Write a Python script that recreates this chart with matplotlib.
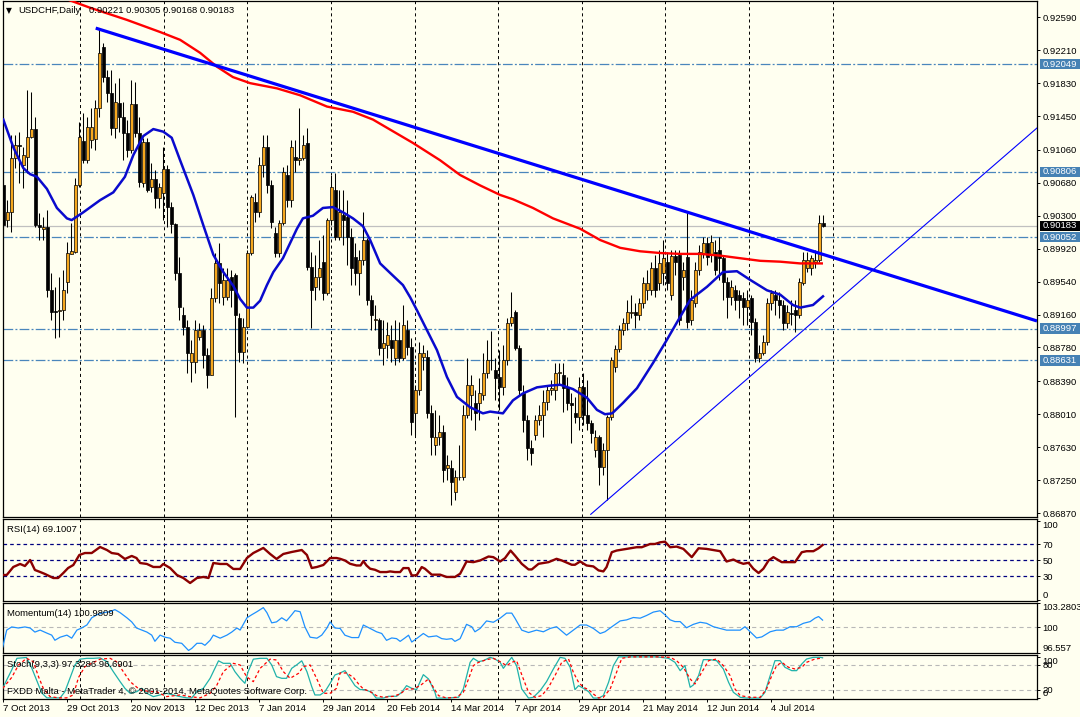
import matplotlib
matplotlib.use("Agg")
import matplotlib.pyplot as plt
import matplotlib.transforms as mtransforms
from matplotlib.patches import Rectangle
from matplotlib.collections import LineCollection, PatchCollection

plt.rcParams['font.family'] = ['Liberation Sans', 'DejaVu Sans']
plt.rcParams['lines.scale_dashes'] = False

# ---------------- data ----------------
opens = [0.9065,0.9025,0.9034,0.9097,0.9112,0.9089,0.9098,0.9121,0.9130,0.9019,
0.9015,0.9017,0.8944,0.8920,0.8920,0.8921,0.8954,0.8986,0.8988,0.9065,
0.9116,0.9094,0.9117,0.9119,0.9154,0.9225,0.9190,0.9172,0.9131,0.9160,
0.9144,0.9126,0.9106,0.9159,0.9126,0.9068,0.9115,0.9063,0.9072,0.9051,
0.9056,0.9084,0.9040,0.9021,0.8964,0.8916,0.8902,0.8861,0.8861,0.8890,
0.8898,0.8869,0.8846,0.8935,0.8975,0.8936,0.8936,0.8959,0.8962,0.8912,
0.8873,0.8902,0.8987,0.9046,0.9034,0.9089,0.9109,0.9065,0.9010,0.8987,
0.9022,0.9077,0.9048,0.9098,0.9094,0.9097,0.9114,0.8971,0.8948,0.8959,
0.8977,0.8941,0.9025,0.9060,0.9005,0.9031,0.9029,0.9005,0.8982,0.8964,
0.8979,0.9002,0.8933,0.8910,0.8910,0.8877,0.8881,0.8887,0.8866,0.8887,
0.8866,0.8898,0.8879,0.8802,0.8829,0.8867,0.8867,0.8802,0.8765,0.8775,
0.8780,0.8739,0.8739,0.8711,0.8728,0.8728,0.8800,0.8823,0.8814,0.8814,
0.8823,0.8849,0.8864,0.8852,0.8844,0.8832,0.8864,0.8906,0.8919,0.8877,
0.8825,0.8794,0.8762,0.8777,0.8794,0.8800,0.8815,0.8829,0.8829,0.8849,
0.8846,0.8832,0.8814,0.8802,0.8798,0.8832,0.8800,0.8791,0.8760,0.8775,
0.8740,0.8760,0.8798,0.8855,0.8876,0.8898,0.8906,0.8918,0.8919,0.8916,
0.8929,0.8944,0.8944,0.8970,0.8952,0.8964,0.8977,0.8939,0.8983,0.8985,
0.8959,0.8982,0.8910,0.8929,0.8967,0.8987,0.8999,0.8985,0.8988,0.8990,
0.8981,0.8954,0.8936,0.8944,0.8939,0.8935,0.8925,0.8935,0.8907,0.8866,
0.8872,0.8884,0.8929,0.8939,0.8933,0.8927,0.8906,0.8918,0.8921,0.8916,
0.8952,0.8970,0.8970,0.8977,0.8979,0.90221]
closes = [0.9019,0.9034,0.9097,0.9112,0.9111,0.9100,0.9121,0.9130,0.9019,0.9017,
0.9017,0.8944,0.8919,0.8919,0.8921,0.8944,0.8987,0.8989,0.9065,0.9121,
0.9094,0.9132,0.9132,0.9154,0.9218,0.9190,0.9172,0.9131,0.9161,0.9144,
0.9126,0.9106,0.9159,0.9126,0.9069,0.9115,0.9060,0.9072,0.9051,0.9063,
0.9084,0.9040,0.9021,0.8964,0.8925,0.8902,0.8872,0.8872,0.8898,0.8898,
0.8869,0.8846,0.8935,0.8975,0.8952,0.8956,0.8956,0.8944,0.8916,0.8873,
0.8902,0.8987,0.9052,0.9034,0.9089,0.9109,0.9065,0.9023,0.8987,0.9022,
0.9081,0.9048,0.9109,0.9094,0.9097,0.9112,0.8971,0.8944,0.8959,0.8970,
0.8941,0.9025,0.9063,0.9005,0.9034,0.9025,0.9005,0.8970,0.8964,0.8979,
0.9002,0.8933,0.8916,0.8911,0.8877,0.8883,0.8892,0.8877,0.8887,0.8866,
0.8904,0.8879,0.8792,0.8829,0.8872,0.8872,0.8802,0.8775,0.8775,0.8780,
0.8737,0.8742,0.8723,0.8728,0.8729,0.8800,0.8835,0.8835,0.8802,0.8825,
0.8849,0.8864,0.8863,0.8843,0.8832,0.8864,0.8906,0.8913,0.8877,0.8829,
0.8794,0.8762,0.8756,0.8794,0.8800,0.8815,0.8829,0.8831,0.8849,0.8850,
0.8831,0.8814,0.8812,0.8798,0.8832,0.8800,0.8791,0.8779,0.8775,0.8740,
0.8760,0.8798,0.8864,0.8876,0.8898,0.8906,0.8919,0.8919,0.8916,0.8929,
0.8952,0.8952,0.8970,0.8944,0.8975,0.8981,0.8952,0.8983,0.8977,0.8910,
0.8967,0.8907,0.8933,0.8967,0.8988,0.8999,0.8982,0.9000,0.8967,0.8981,
0.8954,0.8936,0.8948,0.8933,0.8933,0.8925,0.8933,0.8907,0.8866,0.8872,
0.8884,0.8929,0.8941,0.8933,0.8927,0.8906,0.8919,0.8917,0.8916,0.8954,
0.8979,0.8979,0.8981,0.8979,0.9022,0.90183]
highs = [0.9068,0.9048,0.9123,0.9123,0.9127,0.9109,0.9175,0.9173,0.9144,0.9033,
0.9029,0.9037,0.8964,0.8948,0.8959,0.8967,0.9000,0.9022,0.9074,0.9138,
0.9149,0.9144,0.9154,0.9164,0.9246,0.9229,0.9198,0.9198,0.9183,0.9189,
0.9161,0.9141,0.9187,0.9184,0.9144,0.9120,0.9120,0.9091,0.9083,0.9068,
0.9109,0.9089,0.9046,0.9022,0.8982,0.8925,0.8910,0.8887,0.8910,0.8906,
0.8904,0.8877,0.8947,0.8987,0.8999,0.8970,0.8970,0.8967,0.8964,0.8918,
0.8912,0.8990,0.9054,0.9056,0.9098,0.9123,0.9123,0.9071,0.9017,0.9025,
0.9086,0.9089,0.9117,0.9117,0.9154,0.9123,0.9131,0.8988,0.8985,0.9002,
0.9008,0.9027,0.9077,0.9079,0.9060,0.9060,0.9048,0.9016,0.8999,0.8990,
0.9034,0.9004,0.8939,0.8927,0.8912,0.8910,0.8907,0.8904,0.8910,0.8907,
0.8927,0.8910,0.8889,0.8835,0.8884,0.8881,0.8875,0.8812,0.8806,0.8800,
0.8788,0.8754,0.8748,0.8737,0.8765,0.8812,0.8866,0.8846,0.8829,0.8843,
0.8872,0.8887,0.8897,0.8866,0.8875,0.8881,0.8912,0.8942,0.8921,0.8881,
0.8835,0.8800,0.8771,0.8800,0.8812,0.8829,0.8835,0.8841,0.8860,0.8860,
0.8860,0.8844,0.8825,0.8821,0.8844,0.8849,0.8841,0.8794,0.8783,0.8777,
0.8768,0.8800,0.8867,0.8881,0.8904,0.8912,0.8933,0.8939,0.8929,0.8935,
0.8959,0.8967,0.8977,0.8985,0.8990,0.9002,0.8988,0.8990,0.8990,0.8990,
0.8977,0.9034,0.8944,0.8977,0.8996,0.9005,0.9005,0.9008,0.9002,0.9005,
0.8985,0.8959,0.8956,0.8950,0.8944,0.8942,0.8944,0.8939,0.8912,0.8881,
0.8892,0.8935,0.8944,0.8944,0.8942,0.8933,0.8927,0.8933,0.8933,0.8958,
0.8988,0.8988,0.8985,0.8990,0.9031,0.90305]
lows = [0.9014,0.9017,0.9011,0.9085,0.9068,0.9062,0.9079,0.9120,0.9017,0.9002,
0.9002,0.8936,0.8910,0.8889,0.8890,0.8910,0.8941,0.8986,0.8987,0.9063,
0.9091,0.9091,0.9108,0.9106,0.9144,0.9184,0.9161,0.9123,0.9120,0.9127,
0.9094,0.9098,0.9102,0.9121,0.9063,0.9063,0.9057,0.9057,0.9039,0.9039,
0.9025,0.9017,0.9010,0.8956,0.8910,0.8892,0.8849,0.8838,0.8849,0.8887,
0.8854,0.8831,0.8846,0.8930,0.8929,0.8927,0.8933,0.8925,0.8798,0.8861,
0.8860,0.8900,0.8985,0.9023,0.9029,0.9075,0.9056,0.9016,0.8982,0.8982,
0.9019,0.9040,0.9040,0.9081,0.9089,0.9094,0.8967,0.8900,0.8933,0.8944,
0.8933,0.8939,0.9019,0.9002,0.9002,0.8996,0.8973,0.8950,0.8950,0.8939,
0.8973,0.8927,0.8898,0.8898,0.8869,0.8858,0.8866,0.8861,0.8858,0.8861,
0.8864,0.8869,0.8777,0.8777,0.8823,0.8852,0.8797,0.8754,0.8754,0.8765,
0.8723,0.8725,0.8696,0.8702,0.8725,0.8725,0.8797,0.8794,0.8783,0.8794,
0.8817,0.8843,0.8852,0.8817,0.8806,0.8823,0.8858,0.8903,0.8875,0.8823,
0.8780,0.8748,0.8742,0.8771,0.8788,0.8775,0.8806,0.8823,0.8817,0.8835,
0.8804,0.8806,0.8768,0.8791,0.8783,0.8789,0.8783,0.8768,0.8752,0.8719,
0.8731,0.8702,0.8794,0.8850,0.8873,0.8892,0.8898,0.8912,0.8900,0.8910,
0.8923,0.8933,0.8939,0.8936,0.8944,0.8950,0.8944,0.8933,0.8962,0.8904,
0.8944,0.8900,0.8904,0.8925,0.8962,0.8981,0.8973,0.8977,0.8962,0.8956,
0.8933,0.8912,0.8927,0.8921,0.8912,0.8904,0.8904,0.8892,0.8861,0.8861,
0.8869,0.8881,0.8921,0.8916,0.8912,0.8898,0.8900,0.8904,0.8896,0.8912,
0.8950,0.8965,0.8962,0.8970,0.8977,0.90168]

# moving averages (bar position, value)
ma_fast_idx = [0,2.5,5,6.7,8.4,10.9,13.4,15.9,17.1,20,24.2,27.5,30.4,32.5,35,37.5,40,42.1,44.2,47.5,
50,52.5,55,57.5,59.2,60.9,62.5,64.2,65.9,67.5,69.9,73.4,74.9,77.4,79.9,82.4,84.9,87.4,89.9,91.7,
94.2,96.7,99.9,101.7,103.4,105.9,108.4,110.9,113.4,116.7,119.9,121.7,124.9,127.4,129.9,133.4,136.7,139.2,142.4,145.9,
148.4,150.4,152.2,154.9,158.4,162.4,165.9,168.4,171.7,175.9,179.9,183.4,186.7,190.9,194.2,197.4,199.2,202.4,204.9]
ma_fast_val = [0.9141,0.9109,0.9085,0.9078,0.9075,0.9061,0.9039,0.9027,0.9025,0.9034,0.9048,0.9057,0.9075,0.9100,0.9122,0.9130,0.9127,0.9120,0.9094,0.9054,
0.9019,0.8985,0.8965,0.8949,0.8934,0.8924,0.8924,0.8932,0.8950,0.8965,0.8981,0.9015,0.9027,0.9030,0.9039,0.9040,0.9034,0.9027,0.9018,0.9002,
0.8975,0.8964,0.8950,0.8936,0.8921,0.8898,0.8875,0.8844,0.8821,0.8809,0.8802,0.8804,0.8802,0.8817,0.8825,0.8832,0.8834,0.8835,0.8830,0.8820,
0.8806,0.8801,0.8802,0.8814,0.8831,0.8860,0.8887,0.8907,0.8933,0.8948,0.8965,0.8966,0.8956,0.8944,0.8939,0.8927,0.8924,0.8927,0.8937]
ma_slow_idx = [14,21.7,30.9,39.2,44.2,49.2,53.4,57.4,61.7,68.4,74.2,80.9,87.4,92.4,102.4,109.2,114.2,119.2,124.2,127.4,
132.4,137.4,144.2,149.2,154.2,159.2,164.2,169.2,174.2,179.2,184.2,189.2,194.2,199.2,204.9]
ma_slow_val = [0.9283,0.9270,0.9256,0.9242,0.9233,0.9218,0.9202,0.9190,0.9183,0.9177,0.9169,0.9156,0.9150,0.9141,0.9114,0.9094,0.9077,0.9065,0.9054,0.9049,
0.9039,0.9027,0.9015,0.9002,0.8993,0.8989,0.8987,0.8986,0.8986,0.8984,0.8981,0.8978,0.8977,0.8975,0.8975]

# trendlines (bar position, price)
trend_down = ([23.1, 258.4], [0.92465, 0.89086])
trend_up = ([146.85, 258.4], [0.86855, 0.91313])

# horizontal levels
levels = [0.92049, 0.90806, 0.90052, 0.88997, 0.88631]
bid = 0.90183
price_ticks = [0.92590,0.92210,0.91830,0.91450,0.91060,0.90680,0.90300,0.89920,
               0.89540,0.89160,0.88780,0.88390,0.88010,0.87630,0.87250,0.86870]

# RSI(14)
rsi_idx = [-0.15,0.85,2.5,4.2,5.4,6.7,7.9,9.2,10.4,12.5,13.7,15,16.2,17.5,19,20.4,22.1,24.2,25.9,27.1,
28.7,30.4,32.1,33.3,34.2,35.9,37.5,39.2,40,41.7,43.4,45,46.7,48.4,50,51.3,52.5,54.2,55.9,57.5,
59.2,60.9,62.5,65,66.7,68.3,70,72.1,74.6,75.9,77.1,78.4,80,81.7,83.3,
84.2,85.4,86.7,88.3,89.3,90,90.8,91.7,92.9,94.2,95.8,96.7,97.9,99.2,100,101.3,102.1,103.3,104.6,105.4,
107.1,109.2,110.8,112.9,114.2,115.8,117.5,119.2,121.3,122.5,124.2,125.4,126.8,127.9,129.6,131.3,132.1,133.8,136.3,138.3,
139.6,142.1,142.9,144.2,145.8,147.5,148.8,150,150.8,152.1,153.3,155.8,158.3,159.6,161.7,162.9,164.2,165.4,166.7,168.3,
170,172.1,173.8,175.8,179.2,180.8,182.5,183.8,185,186.3,187.5,188.8,190,191.3,192.5,194.6,196.3,197.9,199.6,200.8,
202.5,203.8,204.8]
rsi_val = [31.3,31.3,41.4,45.2,42.6,50.2,37.6,35.1,32.6,27.5,27.5,33.8,40.1,43.9,56.5,59,59,66.6,62.8,59,
57.8,51.5,55.3,52.7,46.4,45.2,41.4,41.4,45.2,40.1,31.3,27.5,21.2,27.5,28.8,27.5,46.4,45.2,45.2,38.9,
38.9,52.7,59,65.4,57.8,51.5,57.8,60.3,62.8,56.5,40.1,41.4,43.9,52.7,52.7,
51.7,49.6,45.4,43.3,43.3,48.8,43.3,39.2,37.9,35,35,35.8,35,35,40,40,30.8,30.8,41.3,39.2,
31.7,31.7,28.8,28.8,32.9,48.3,47.5,49.6,54.6,53.8,48.3,52.5,62.1,55.8,45.4,38.3,38.3,45.4,47.5,51.7,
49.6,44.2,44.2,48.3,43.3,42.1,37.1,35.8,41.3,60,62.1,64.2,66.3,66.3,70.4,70.4,72.5,73.3,66.3,67.1,
64.2,53.8,65,64.2,61.3,48.3,50.8,47.5,45.4,46.7,39.2,33.8,39.2,49.6,53.8,47.5,47.5,47.5,60,61.3,
61.3,65,69.1]

# Momentum(14)
mom_idx = [-0.15,0.85,2.1,3.75,5.4,6.7,7.9,9.2,10.9,12.1,12.9,14.2,15.9,17.1,18.4,19.6,20.9,22.1,23.4,25,
26.7,27.9,29.2,30.9,32.1,33.3,34.6,35.9,37.1,37.9,39.2,40.4,41.7,42.9,44.6,46.3,47.1,48.4,49.6,50.4,
51.7,52.5,54.2,55.9,57.1,58.4,59.2,60.9,62.1,63.4,64.2,65,65.9,67.1,68.3,69.6,70.8,72.1,72.9,74.2,
75.4,76.7,78.4,79.6,80.9,81.7,82.9,
84.2,85.4,87.1,88.8,90,91.7,93.3,94.6,95.8,97.1,98.3,99.2,100.4,101.3,102.1,103.3,105,106.3,108.3,109.6,
110.8,112.1,112.9,114.2,115.8,117.1,117.9,119.2,120.8,122.5,124.2,125.8,127.1,127.9,129.6,131.3,133.3,135,136.7,138.3,
140,140.8,142.5,144.2,145.8,147.5,149.2,150.4,152.5,154.2,155.8,157.5,159.2,160.8,162.5,164.2,165.4,166.7,167.9,169.2,
170.8,172.5,174.2,175.8,177.5,179.2,180.8,182.5,184.2,185.4,186.7,188.3,189.6,191.7,193.3,195,196.7,198.3,200,201.7,
202.9,203.8,204.8]
mom_val = [97.35,99.64,100.06,99.92,100.06,99.92,99.37,99.64,99.23,98.96,98.27,98.68,98.96,98.55,99.64,99.92,100.33,101.29,101.70,101.98,
102.11,102.39,101.98,101.29,100.74,99.92,99.64,99.37,98.96,98.13,98.96,98.68,98.55,98.00,97.86,96.90,97.17,97.86,97.86,97.59,
98.27,98.96,98.55,98.96,99.37,99.92,99.64,101.29,101.70,102.11,102.39,102.66,101.98,100.61,100.74,101.29,100.88,101.70,102.25,102.11,
100.06,98.68,98.55,98.96,99.92,100.74,99.92,
99.86,98.95,98.63,98.63,100.32,99.86,99.41,99.18,98.26,98.58,98.49,98.12,98.58,98.95,98.03,98.49,99.18,98.72,98.86,98.49,
98.40,98.49,98.12,98.49,100.41,100.09,99.41,99.86,100.87,100.69,101.24,101.92,101.92,101.24,99.63,99.31,99.63,99.41,99.86,100.09,
99.31,98.95,99.63,100.32,100.32,99.86,99.18,99.41,100.23,100.87,101.01,101.33,101.24,101.60,102.06,102.24,101.69,101.01,100.78,100.78,
99.95,100.41,100.69,100.55,100.09,99.86,99.63,99.63,99.63,100.09,99.41,98.58,98.72,99.41,99.63,99.63,100.09,100.09,100.55,100.78,
101.24,101.46,100.98]

# Stochastic(9,3,3): %K main line and %D signal line
stk_idx = [-0.15,0.85,2.1,3.4,4.6,5.8,7.1,8.3,9.6,10.9,12.5,14.2,15.4,16.7,17.9,19.2,20.9,22.5,24.2,25.9,
27.5,29.2,30.4,31.7,33.4,34.6,35.9,37.5,39.2,40.8,42.5,44.2,45.9,47.1,48.4,50,51.7,52.5,53.8,55,
56.7,57.9,59.2,60.4,61.2,62.5,64.2,65.9,67.1,68.3,69.6,70.8,72.1,73.3,74.6,75.9,77.1,77.9,79.2,80.4,
81.7,82.9,
84.2,85.4,86.7,87.9,89.2,90.4,92.1,93.2,95,96.3,98.3,99.6,100.8,102.1,103.3,105,106.3,107.9,108.3,110.8,
113.8,115,116.7,117.5,118.8,120,121.7,122.9,124.2,125,125.8,127.1,128.3,129.6,131.3,132.5,134.2,135.8,137.5,139.2,
140.4,141.7,142.9,143.8,145,146.3,147.5,148.8,150,151.3,152.5,153.8,156.7,163.3,166.3,167.9,169.2,170.4,171.7,172.5,
173.8,175,176.7,178.3,180,181.3,182.5,184.2,185.8,189.2,190.4,191.7,192.9,194.2,195.4,197.1,198.3,199.6,200.8,202.5,
204.2,204.8]
stk_val = [24,44,68,96,97,98,73,44,13,1,1,1,16,49,80,94,96,96,97,88,
64,40,24,12,16,24,12,4,8,12,8,4,1,1,16,24,48,64,90,84,
84,64,48,36,64,94,96,96,80,52,48,48,72,80,90,64,28,8,8,16,
36,56,
60.8,66.4,48,30.4,20.8,20.8,14.4,0.5,0.5,4.8,4.8,14.4,30.4,24,20.8,56.8,46.4,14.4,0.5,0.5,
2.4,22.4,86.4,96,88,90.4,98.4,94.4,86.4,72,82.4,98.4,78.4,22.4,0.5,2.4,18.4,40,70.4,98.4,
96,74.4,20.8,30.4,24,16,0.5,0.5,6.4,38.4,78.4,99.5,99.5,99.5,96,86.4,66.4,78.4,26.4,32,
54.4,92.8,92.8,90.4,70.4,38.4,14.4,2.4,0.5,0.5,14.4,54.4,90.4,90.4,74.4,66.4,66.4,82.4,94.4,98.4,
98.4,97.33]
std_idx = [-0.15,2.1,3.8,5.8,7.5,8.8,10,11.7,13.8,15.8,17.5,18.8,20.4,24.2,26.7,28.3,30,31.7,34.2,36.7,
38.3,40.8,44.2,46.7,49.2,51.7,53.3,55,57.5,59.2,60.8,62.5,64.2,66.7,68.3,70,71.7,73.8,75,76.7,
78.3,80,81.7,83.3,
84.2,85.8,87.5,88.8,90,91.7,93.3,95,97.5,99.2,100.8,102.5,104.2,106.3,107.5,108.8,110.8,113.3,115,116.3,
117.5,118.8,120.8,122.5,124.2,125.8,127.1,128.3,130,131.3,132.9,134.6,136.3,137.9,139.6,141.3,142.5,143.8,145,146.3,
147.5,148.8,150,151.7,153.3,154.6,156.7,163.3,166.7,168.3,170,171.7,172.9,174.6,176.3,178.3,180,181.7,182.9,184.2,
186.7,189.2,190.8,192.1,193.3,194.6,196.3,197.9,199.6,200.8,202.9,204.8]
std_val = [24,50,80,96,88,52,24,4,1,1,8,50,76,94,96,88,64,40,20,16,
16,4,8,4,1,12,30,64,84,80,52,40,72,94,92,64,48,60,76,80,
48,12,12,24,
60.8,60.8,50.4,34.4,22.4,16,6.4,2.4,4.8,10.4,22.4,22.4,30.4,46.4,26.4,6.4,0.8,2.4,14.4,46.4,
78.4,86.4,92.8,96,88,78.4,86.4,90.4,46.4,14.4,2.4,6.4,26.4,54.4,86.4,94.4,62.4,38.4,26.4,20.8,
10.4,0.8,2.4,22.4,62.4,96,99.5,99.5,98.4,90.4,74.4,46.4,34.4,62.4,90.4,94.4,78.4,54.4,22.4,6.4,
2.4,2.4,22.4,54.4,78.4,86.4,74.4,70.4,74.4,86.4,94.4,96.69]

date_labels = ["7 Oct 2013", "29 Oct 2013", "20 Nov 2013", "12 Dec 2013", "7 Jan 2014",
               "29 Jan 2014", "20 Feb 2014", "14 Mar 2014", "7 Apr 2014", "29 Apr 2014",
               "21 May 2014", "12 Jun 2014", "4 Jul 2014"]

# ---------------- layout ----------------
W, H = 1080, 717
BG = '#FFFFF0'
fig = plt.figure(figsize=(W / 100, H / 100), dpi=100)
fig.patch.set_facecolor(BG)
FS = 6.8

def panel(y0, y1):
    a = fig.add_axes([2.5 / W, 1 - y1 / H, (1037 - 2.5) / W, (y1 - y0) / H])
    a.set_facecolor(BG)
    for s in a.spines.values():
        s.set_color('black')
        s.set_linewidth(0.9)
    a.set_xlim(-0.2, 258.4)
    a.tick_params(axis='x', bottom=False, labelbottom=False)
    a.yaxis.tick_right()
    a.tick_params(axis='y', right=True, left=False, labelleft=False, labelright=True,
                  length=2.2, width=0.7, pad=1.8, labelsize=FS, colors='black')
    for k in range(10):
        a.axvline(19.2 + 20.9 * k, color='black', lw=0.7, ls=(0, (2.2, 2.2)), zorder=1)
    return a

ax = panel(1, 517)
ax_rsi = panel(519, 601)
ax_mom = panel(603, 653)
ax_sto = panel(655, 699)

# ---------------- main price panel ----------------
ax.set_ylim(0.86824, 0.92778)
n = len(closes)
wicks = [[(i, lows[i]), (i, highs[i])] for i in range(n)]
ax.add_collection(LineCollection(wicks, colors='black', linewidths=0.75, zorder=3))
bodies, fcs = [], []
for i in range(n):
    o, c = opens[i], closes[i]
    lo, hi = min(o, c), max(o, c)
    if hi - lo < 0.00008:
        hi = lo + 0.00008
    bodies.append(Rectangle((i - 0.39, lo), 0.78, hi - lo))
    fcs.append('#F5A71E' if c > o else 'black')
ax.add_collection(PatchCollection(bodies, facecolors=fcs, edgecolors='black',
                                  linewidths=0.5, zorder=3))

for lv in levels:
    ax.axhline(lv, color='#4A86BC', lw=0.9, ls=(0, (7, 1.6, 1.4, 1.6)), zorder=2)
ax.axhline(bid, color='#C0C0C0', lw=0.9, zorder=2)

ax.plot(ma_slow_idx, ma_slow_val, color='#FF0000', lw=1.7, zorder=4, solid_capstyle='butt')
ax.plot(ma_fast_idx, ma_fast_val, color='#0A0ACD', lw=1.8, zorder=4)
ax.plot(trend_down[0], trend_down[1], color='#0000FF', lw=2.3, zorder=5, solid_capstyle='butt')
ax.plot(trend_up[0], trend_up[1], color='#0000FF', lw=0.8, zorder=5)

ax.set_yticks(price_ticks)
ax.set_yticklabels(['%.5f' % v for v in price_ticks])

# highlighted price labels
bt = mtransforms.blended_transform_factory(fig.transFigure, ax.transData)
box_h = 10.5 * (0.92778 - 0.86824) / 516
for v, colr in [(x, '#4682B4') for x in levels] + [(bid, 'black')]:
    fig.add_artist(Rectangle((1039.5 / W, v - box_h / 2), 40.5 / W, box_h, transform=bt,
                             facecolor=colr, edgecolor='none', zorder=10))
    fig.text(1042.5 / W, v, '%.5f' % v, transform=bt, color='white', fontsize=FS,
             va='center', ha='left', zorder=11)

# ---------------- RSI ----------------
ax_rsi.set_ylim(-1.5, 101.9)
for lv in (70, 50, 30):
    ax_rsi.axhline(lv, color='#000080', lw=0.9, ls=(0, (2.6, 2.2)), zorder=2)
ax_rsi.plot(rsi_idx, rsi_val, color='#8B0000', lw=1.7, zorder=4)
ax_rsi.set_yticks([100, 70, 50, 30, 0])
ax_rsi.set_yticklabels(['100', '70', '50', '30', '0'])

# ---------------- Momentum ----------------
ax_mom.set_ylim(96.557, 103.2803)
ax_mom.axhline(100, color='#B8B8B8', lw=0.8, ls=(0, (3, 2.5)), zorder=2)
ax_mom.plot(mom_idx, mom_val, color='#1E90FF', lw=0.9, zorder=4)
ax_mom.set_yticks([103.2803, 100, 96.557])
ax_mom.set_yticklabels(['103.2803', '100', '96.557'])

# ---------------- Stochastic ----------------
ax_sto.set_ylim(-1.7, 104)
for lv in (80, 20):
    ax_sto.axhline(lv, color='#B8B8B8', lw=0.8, ls=(0, (3, 2.5)), zorder=2)
ax_sto.plot(stk_idx, stk_val, color='#20B2AA', lw=0.9, zorder=4)
ax_sto.plot(std_idx, std_val, color='#FF0000', lw=0.9, ls=(0, (2.2, 1.8)), zorder=4)
ax_sto.set_yticks([100, 80, 20, 0])
ax_sto.set_yticklabels(['100', '80', '20', '0'])

for a, top, bot in [(ax_rsi, 100, 0), (ax_mom, 103.2803, 96.557), (ax_sto, 100, 0)]:
    for t in a.yaxis.get_major_ticks():
        if abs(t.get_loc() - top) < 1e-6:
            t.label2.set_va('top')
        elif abs(t.get_loc() - bot) < 1e-6:
            t.label2.set_va('bottom')

# x axis labels
ax_sto.set_xticks([16 * k for k in range(len(date_labels))])
ax_sto.set_xticklabels(date_labels, ha='left')
ax_sto.tick_params(axis='x', bottom=True, labelbottom=True, length=2.2, width=0.7,
                   pad=1.2, labelsize=FS)

# ---------------- texts ----------------
def ftext(x, y, s, **kw):
    fig.text(x / W, 1 - y / H, s, fontsize=kw.pop('fontsize', FS), va='center', ha='left', **kw)

ftext(6, 10.5, '\u25BC', fontsize=5.5, family='DejaVu Sans')
ftext(18, 10.5, 'USDCHF,Daily')
ftext(89, 10.5, '0.90221 0.90305 0.90168 0.90183')
ftext(7, 529, 'RSI(14) 69.1007')
ftext(7, 613, 'Momentum(14) 100.9809')
ftext(7, 664.5, 'Stoch(9,3,3) 97.3286 96.6901')
ftext(7, 691, 'FXDD Malta - MetaTrader 4, \u00A9 2001-2014, MetaQuotes Software Corp.')

fig.savefig('out.png', dpi=100, facecolor=BG)
